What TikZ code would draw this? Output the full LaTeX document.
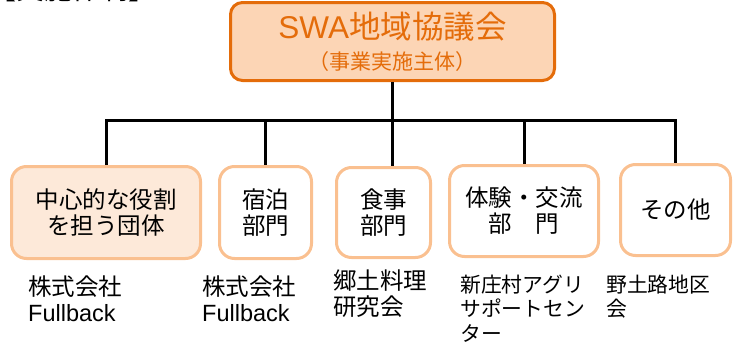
\documentclass[tikz,border=0pt]{standalone}
\usepackage{fontspec}
\setmainfont{Liberation Sans}
\newfontfamily\jpfont{Noto Sans CJK JP}
\usepackage{tikz}
\usetikzlibrary{positioning}

\definecolor{swaline}{HTML}{E46C0A}
\definecolor{swafill}{HTML}{FCD5B5}
\definecolor{unitline}{HTML}{FAC090}
\definecolor{corefill}{HTML}{FDE9D9}

\begin{document}
\begin{tikzpicture}[
		x=1pt,y=-1pt,
		every node/.style={inner sep=0pt,font=\jpfont\fontsize{23.5}{26}\selectfont},
		topbox/.style={draw=swaline,fill=swafill,line width=3pt,rounded corners=12pt,minimum width=324pt,minimum height=78pt,align=center,text=swaline},
		unitbox/.style={draw=unitline,fill=white,line width=3pt,rounded corners=15pt,align=center},
		note/.style={anchor=north west,align=left},
		small note/.style={note,font=\jpfont\fontsize{20.8}{24.5}\selectfont},
		link/.style={line width=3pt}
		]
		\useasboundingbox (0,0) rectangle (733,343);
		\node[anchor=base west,font=\jpfont\fontsize{28}{30}\selectfont] (heading) at (-12,-0.5) {【実施体制】};
		% top box
		\node[topbox] (swa) at (392.5,41.5) {\fontsize{31.5}{32}\selectfont{\rmfamily SWA}地域協議会\\[5pt]\fontsize{21}{32}\selectfont（事業実施主体）};
		% units
		\node[unitbox,fill=corefill,minimum width=189pt,minimum height=92pt] (core) at (106,212.5) {中心的な役割\\を担う団体};
		\node[unitbox,minimum width=92pt,minimum height=92pt] (stay) at (265.5,212.5) {宿泊\\部門};
		\node[unitbox,minimum width=94pt,minimum height=90pt] (meal) at (383.5,212.5) {食事\\部門};
		\node[unitbox,minimum width=149pt,minimum height=91pt] (exp) at (524,211) {体験・交流\\部　門};
		\node[unitbox,minimum width=110pt,minimum height=91pt] (other) at (675.5,210) {その他};
		% members
		\node[note] (coreorg) at (28,276) {株式会社\\{\rmfamily Fullback}};
		\node[note] (stayorg) at (202,276) {株式会社\\{\rmfamily Fullback}};
		\node[note] (mealorg) at (333,270) {郷土料理\\研究会};
		\node[small note] (exporg) at (460,274.5) {新庄村アグリ\\サポートセン\\ター};
		\node[small note] (otherorg) at (606,274.5) {野土路地区\\会};
		% links
		\coordinate (bar) at (0,120);
		\draw[link] (core.north) -- (core.north |- bar) -- (other.north |- bar) -- (other.north);
		\draw[link] (swa.south) -- (swa.south |- meal.north);
		\foreach \u in {stay,exp}
			\draw[link] (\u.north |- bar) -- (\u.north);
	\end{tikzpicture}
\end{document}
